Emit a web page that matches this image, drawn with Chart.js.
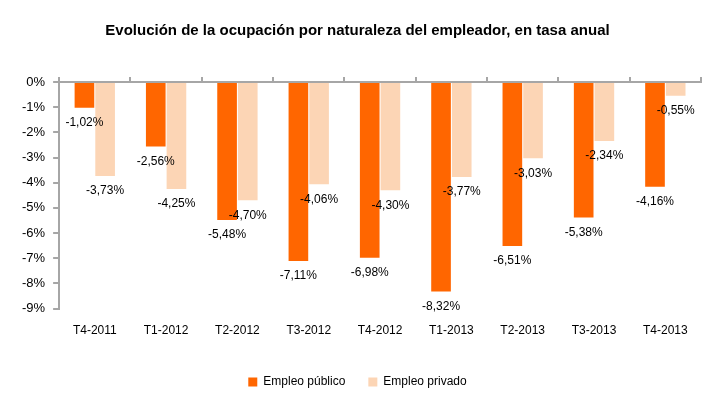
<!DOCTYPE html>
<html>
<head>
<meta charset="utf-8">
<script src="https://cdn.jsdelivr.net/npm/chart.js@4/dist/chart.umd.min.js"></script>
<style>
  html, body { margin: 0; padding: 0; background: #ffffff; }
  #wrap { width: 721px; height: 393px; }
</style>
</head>
<body>
<div id="wrap"><canvas id="c" width="721" height="393"></canvas></div>
<script>
const categories = ["T4-2011", "T1-2012", "T2-2012", "T3-2012", "T4-2012", "T1-2013", "T2-2013", "T3-2013", "T4-2013"];
const empleoPublico = [-1.02, -2.56, -5.48, -7.11, -6.98, -8.32, -6.51, -5.38, -4.16];
const empleoPrivado = [-3.73, -4.25, -4.70, -4.06, -4.30, -3.77, -3.03, -2.34, -0.55];
const seriesNames = ["Empleo público", "Empleo privado"];
const yTicks = [0, -1, -2, -3, -4, -5, -6, -7, -8, -9];
const titleText = "Evolución de la ocupación por naturaleza del empleador, en tasa anual";

const FONT = "'Liberation Sans', Arial, sans-serif";
const AXIS = "#A6A6A6";

function fmt(v) {
  return v.toFixed(2).replace(".", ",") + "%";
}

const labelPlugin = {
  id: "barLabels",
  afterDatasetsDraw(chart) {
    const ctx = chart.ctx;
    ctx.save();
    ctx.font = "12px " + FONT;
    ctx.fillStyle = "#000000";
    ctx.textAlign = "center";
    ctx.textBaseline = "middle";
    chart.data.datasets.forEach((ds, di) => {
      const meta = chart.getDatasetMeta(di);
      meta.data.forEach((bar, i) => {
        ctx.fillText(fmt(ds.data[i]), bar.x, bar.y + 15);
      });
    });
    ctx.restore();
  }
};

new Chart(document.getElementById("c"), {
  type: "bar",
  data: {
    labels: categories,
    datasets: [
      { label: seriesNames[0], data: empleoPublico, backgroundColor: "#FF6600", xAxisID: "x" },
      { label: seriesNames[1], data: empleoPrivado, backgroundColor: "#FCD5B5", xAxisID: "x" }
    ]
  },
  options: {
    responsive: false,
    animation: false,
    devicePixelRatio: 1,
    layout: { padding: { left: 14, right: 20, top: 16, bottom: -5 } },
    datasets: { bar: { categoryPercentage: 0.58, barPercentage: 0.95 } },
    plugins: {
      title: {
        display: true,
        text: titleText,
        color: "#000000",
        font: { family: FONT, size: 15, weight: "bold" },
        padding: { top: 6, bottom: 37 }
      },
      legend: {
        position: "bottom",
        labels: {
          boxWidth: 9,
          boxHeight: 9,
          padding: 23,
          color: "#000000",
          font: { family: FONT, size: 12 }
        }
      },
      tooltip: { enabled: false }
    },
    scales: {
      x: {
        position: "bottom",
        grid: { display: false, drawTicks: false },
        border: { display: false },
        ticks: { color: "#000000", font: { family: FONT, size: 12 }, padding: 15, maxRotation: 0 }
      },
      x2: {
        type: "category",
        labels: categories,
        position: "top",
        offset: true,
        grid: { display: true, drawOnChartArea: false, drawTicks: true, tickLength: 5, color: AXIS, lineWidth: 2 },
        border: { display: true, color: AXIS, width: 2 },
        ticks: { display: false }
      },
      y: {
        min: -9,
        max: 0,
        afterBuildTicks(scale) { scale.ticks = yTicks.map(v => ({ value: v })); },
        grid: { display: true, drawOnChartArea: false, drawTicks: true, tickLength: 6, color: AXIS, lineWidth: 2 },
        border: { display: true, color: AXIS, width: 2 },
        ticks: {
          color: "#000000",
          font: { family: FONT, size: 13 },
          padding: 8,
          callback: (v) => v + "%"
        }
      }
    }
  },
  plugins: [labelPlugin]
});
</script>
</body>
</html>
